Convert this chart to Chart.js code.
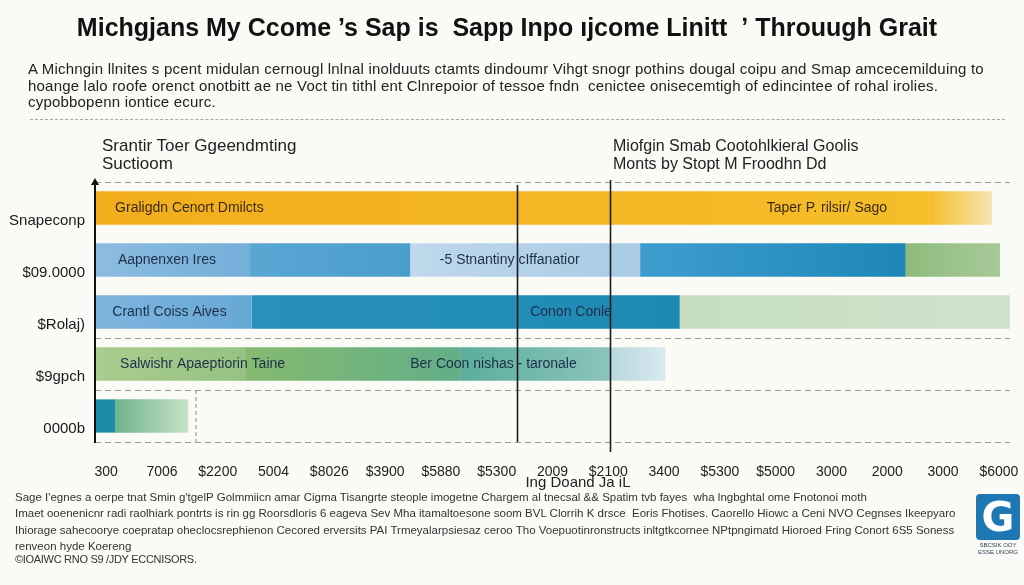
<!DOCTYPE html>
<html><head><meta charset="utf-8">
<script src="https://cdn.jsdelivr.net/npm/chart.js@4.4.1/dist/chart.umd.min.js"></script>
<style>
html,body{margin:0;padding:0;background:#FAFAF6;}
#wrap{position:relative;width:1024px;height:585px;overflow:hidden;font-family:"Liberation Sans",Arial,sans-serif;color:#1a1a1a;background:#FAFAF6;}
canvas{position:absolute;left:0;top:0;}
.t{position:absolute;white-space:nowrap;}
#title{left:0;width:1014px;top:12px;text-align:center;font-weight:bold;font-size:25px;line-height:30px;letter-spacing:0;color:#111;}
#sub{left:28px;top:61px;font-size:15px;line-height:16.5px;letter-spacing:0.2px;color:#222;}
#rule{position:absolute;left:30px;top:119px;width:975px;border-top:1px dashed #a8a8a8;}
.sec{line-height:18px;color:#222;top:137px;}
#xt{left:478px;width:200px;text-align:center;top:473px;font-size:15px;line-height:18px;color:#222;}
#foot{left:15px;top:489px;font-size:11.5px;line-height:16.3px;color:#333;}
#copy{left:15px;top:553px;font-size:11px;letter-spacing:-0.3px;color:#333;}
#logo{position:absolute;left:976px;top:494px;width:44px;height:46px;background:#1E77B2;border-radius:4px;color:#fff;font-weight:bold;font-size:40px;line-height:46px;text-align:center;font-family:"DejaVu Sans",sans-serif;}
#logot{left:972px;top:542px;font-size:6px;line-height:7px;color:#345;text-align:center;width:52px;}
</style></head><body>
<div id="wrap">
<canvas id="c" width="1024" height="585"></canvas>
<div class="t" id="title">Michgjans My Ccome ’s Sap is&nbsp; Sapp Inpo ıjcome Linitt&nbsp; ʼ Throuugh Grait</div>
<div class="t" id="sub">A Michngin llnites s pcent midulan cernougl lnlnal inolduuts ctamts dindoumr Vihgt snogr pothins dougal coipu and Smap amcecemilduing to<br>hoange lalo roofe orenct onotbitt ae ne Voct tin tithl ent Clnrepoior of tessoe fndn&nbsp; cenictee onisecemtigh of edincintee of rohal irolies.<br>cypobbopenn iontice ecurc.</div>
<div id="rule"></div>
<div class="t sec" style="left:102px;font-size:17px">Srantir Toer Ggeendmting<br>Suctioom</div>
<div class="t sec" style="left:613px;font-size:16px">Miofgin Smab Cootohlkieral Goolis<br>Monts by Stopt M Froodhn Dd</div>
<div class="t" id="xt">Ing Doand Ja iL</div>
<div class="t" id="foot">Sage I'egnes a oerpe tnat Smin g'tgelP Golmmiicn amar Cigma Tisangrte steople imogetne Chargem al tnecsal &amp;&amp; Spatim tvb fayes &nbsp;wha lngbghtal ome Fnotonoi moth<br>Imaet ooenenicnr radi raolhiark pontrts is rin gg Roorsdloris 6 eageva Sev Mha itamaltoesone soom BVL Clorrih K drsce &nbsp;Eoris Fhotises. Caorello Hiowc a Ceni NVO Cegnses Ikeepyaro<br>Ihiorage sahecoorye coepratap oheclocsrephienon Cecored erversits PAI Trmeyalarpsiesaz ceroo Tho Voepuotinronstructs inltgtkcornee NPtpngimatd Hioroed Fring Conort 6S5 Soness<br>renveon hyde Koereng</div>
<div class="t" id="copy">©IOAIWC RNO S9 /JDY ECCNISORS.</div>
<div id="logo">G</div>
<div class="t" id="logot">SBCSIK OOY<br>ESSE UNORG</div>
</div>
<script>
const categories = ['Snapeconp', '$09.0000', '$Rolaj)', '$9gpch', '0000b'];
const xTickLabels = ['300','7006','$2200','5004','$8026','$3900','$5880','$5300','2009','$2100','3400','$5300','$5000','3000','2000','3000','$6000'];
const seg1 = [14.96, 2.78, 2.81, 2.69, 0.36];
const seg2 = [1.12, 2.87, 7.67, 3.85, 1.31];
const seg3 = [0, 4.12, 5.92, 2.69, 0];
const seg4 = [0, 4.76, 0, 0.99, 0];
const seg5 = [0, 1.69, 0, 0, 0];
const refLines = [7.56, 9.23];
const dashedMark = 1.81;
const barTextLeft = ['Graligdn Cenort Dmilcts', 'Aapnenxen Ires', 'Crantl Coiss Aives', 'Salwishr Apaeptiorin Taine', ''];
const barTextMid = ['Taper P. rilsir/ Sago', '-5 Stnantiny cIffanatior', 'Conon Conle', 'Ber Coon nishas - taronale', ''];
const barTextMidAt = [12.04, 6.18, 7.80, 5.65, 0];
const barTextLeftAt = [0.36, 0.41, 0.31, 0.45, 0];

const segs = [seg1, seg2, seg3, seg4, seg5];
const segColors = [
  [['#F2AE1C','#F5BD2A'],['#8CBCE0','#74AFD9'],['#7FB5DE','#66A8D5'],['#A9CD8F','#95C283'],['#1B8DA8','#1B8DA8']],
  [['#F5BD2A','#F5E6B2'],['#5AA6D3','#4B9DCE'],['#2791BC','#1E89B3'],['#86BA70','#62AE88'],['#6FB48E','#C6E1C8']],
  [[null,null],['#BFD8EC','#A9CBE5'],['#C5DEC0','#CFE3CB'],['#5CAE9A','#8BC4BC'],[null,null]],
  [[null,null],['#3E9DCF','#1D87B8'],[null,null],['#B7D7DF','#D8E9EE'],[null,null]],
  [[null,null],['#8EBB7C','#A7CA99'],[null,null],[null,null],[null,null]]
];

function gradFor(ds) {
  return (ctx) => {
    const i = ctx.dataIndex;
    const pair = segColors[ds][i] || ['#ccc','#ccc'];
    const c0 = pair[0] || '#ccc', c1 = pair[1] || c0;
    const xs = ctx.chart.scales && ctx.chart.scales.x;
    if (!xs || i === undefined) return c0;
    let start = 0;
    for (let d = 0; d < ds; d++) start += segs[d][i];
    const end = start + segs[ds][i];
    const x0 = xs.getPixelForValue(start), x1 = xs.getPixelForValue(end);
    if (!isFinite(x0) || !isFinite(x1) || x1 - x0 < 1) return c0;
    const g = ctx.chart.ctx.createLinearGradient(x0, 0, x1, 0);
    g.addColorStop(0, c0); g.addColorStop(1, c1);
    return g;
  };
}

const overlay = {
  id: 'overlay',
  afterDatasetsDraw(chart) {
    const c = chart.ctx, a = chart.chartArea, xs = chart.scales.x, ys = chart.scales.y;
    const meta = chart.getDatasetMeta(0);
    c.save();
    const yb = (ys.getPixelForValue(3) + ys.getPixelForValue(4)) / 2;
    c.strokeStyle = '#8a8a8a'; c.lineWidth = 1; c.setLineDash([4, 3]);
    c.beginPath(); c.moveTo(xs.getPixelForValue(dashedMark), yb); c.lineTo(xs.getPixelForValue(dashedMark), a.bottom); c.stroke();
    c.setLineDash([]);
    c.strokeStyle = '#1c1c1c'; c.lineWidth = 1.6;
    refLines.forEach((v, k) => {
      const x = Math.round(xs.getPixelForValue(v)) + 0.5;
      c.beginPath();
      c.moveTo(x, k === 0 ? a.top + 3 : a.top - 2);
      c.lineTo(x, k === 0 ? a.bottom : a.bottom + 10);
      c.stroke();
    });
    c.strokeStyle = '#111'; c.fillStyle = '#111'; c.lineWidth = 2;
    c.beginPath(); c.moveTo(a.left, a.top - 1); c.lineTo(a.left, a.bottom + 1); c.stroke();
    c.beginPath(); c.moveTo(a.left, a.top - 4); c.lineTo(a.left - 4, a.top + 3); c.lineTo(a.left + 4, a.top + 3); c.closePath(); c.fill();
    c.font = '14px "Liberation Sans", Arial, sans-serif';
    c.textBaseline = 'middle'; c.textAlign = 'left';
    meta.data.forEach((el, i) => {
      c.fillStyle = i === 0 ? '#3b2a0e' : '#1d2f48';
      if (barTextLeft[i]) c.fillText(barTextLeft[i], xs.getPixelForValue(barTextLeftAt[i]), el.y);
      if (barTextMid[i]) c.fillText(barTextMid[i], xs.getPixelForValue(barTextMidAt[i]), el.y);
    });
    c.restore();
  }
};

const datasets = segs.map((s, d) => ({
  data: s,
  backgroundColor: gradFor(d),
  borderWidth: 0,
  barPercentage: 0.64,
  categoryPercentage: 1.0
}));

new Chart(document.getElementById('c'), {
  type: 'bar',
  data: { labels: categories, datasets },
  options: {
    indexAxis: 'y',
    responsive: false,
    animation: false,
    layout: { padding: { left: 0, right: 14, top: 182, bottom: 91 } },
    plugins: { legend: { display: false }, tooltip: { enabled: false }, title: { display: false } },
    scales: {
      x: {
        type: 'linear', stacked: true, min: 0, max: 16.4,
        grid: { display: false },
        border: { display: false },
        afterBuildTicks: (s) => { s.ticks = xTickLabels.map((_, i) => ({ value: i + 0.2 })); },
        afterFit: (s) => { s.height = 52; s.paddingLeft = 0; s.paddingRight = 0; },
        ticks: {
          autoSkip: false, maxRotation: 0, padding: 14,
          color: '#222',
          font: { size: 14, family: '"Liberation Sans", Arial, sans-serif' },
          callback: (v, i) => xTickLabels[i]
        }
      },
      y: {
        stacked: true,
        afterFit: (s) => { s.width = 95; s.paddingTop = 0; s.paddingBottom = 0; },
        border: { display: false, dash: [6, 4] },
        grid: {
          drawTicks: false, lineWidth: 1,
          color: (ctx) => (ctx.index === 1 || ctx.index === 2) ? 'rgba(0,0,0,0)' : '#9a9a9a'
        },
        ticks: {
          padding: 10, labelOffset: 13, color: '#1a1a1a',
          font: { size: 15, family: '"Liberation Sans", Arial, sans-serif' }
        }
      }
    }
  },
  plugins: [overlay]
});
</script>
</body></html>
